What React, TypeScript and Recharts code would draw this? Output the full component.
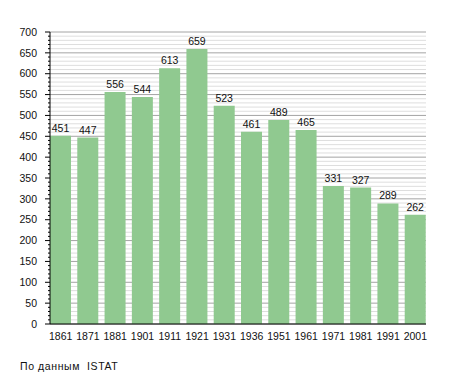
import React from 'react';
import { BarChart, Bar, XAxis, YAxis, CartesianGrid, LabelList } from 'recharts';

const years = ['1861', '1871', '1881', '1901', '1911', '1921', '1931', '1936', '1951', '1961', '1971', '1981', '1991', '2001'];
const population = [451, 447, 556, 544, 613, 659, 523, 461, 489, 465, 331, 327, 289, 262];
const yTicks = Array.from({ length: 71 }, (_, i) => i * 10);
const sourceNote = 'По данным  ISTAT';

const data = years.map((year, i) => ({ year, value: population[i] }));

const YTick = (props: any) => {
  const { x, y, payload } = props;
  const major = payload.value % 50 === 0;
  return (
    <g>
      <line x1={x - (major ? 5 : 2)} x2={x} y1={y} y2={y} stroke="#000" strokeWidth={1} />
      {major && (
        <text x={x - 13} y={y} dy="0.36em" textAnchor="end" fontSize={10.5} fill="#111">
          {payload.value}
        </text>
      )}
    </g>
  );
};

const GridLine = (props: any) => {
  const { x1, x2, y1, y2, index } = props;
  const major = index % 5 === 0;
  return <line x1={x1} x2={x2} y1={y1} y2={y2} stroke={major ? '#a4a4a4' : '#dedede'} strokeWidth={1} />;
};

export default function App() {
  return (
    <div
      style={{
        position: 'absolute',
        left: 0,
        top: 0,
        width: 455,
        height: 373,
        background: '#fff',
        fontFamily: '"Liberation Sans", Arial, sans-serif',
      }}
    >
      <BarChart
        width={455}
        height={350}
        data={data}
        margin={{ top: 32, right: 29, left: 0, bottom: 6 }}
      >
        <CartesianGrid vertical={false} horizontal={GridLine} />
        <XAxis
          dataKey="year"
          height={20}
          interval={0}
          padding={{ left: -3, right: -3 }}
          tickLine={false}
          axisLine={{ stroke: '#000' }}
          tick={{ fontSize: 10.5, fill: '#111' }}
          tickMargin={3}
        />
        <YAxis
          width={50}
          domain={[0, 700]}
          ticks={yTicks}
          interval={0}
          tickSize={0}
          tickMargin={0}
          tickLine={false}
          axisLine={{ stroke: '#000' }}
          tick={<YTick />}
        />
        <Bar dataKey="value" fill="#90c990" barSize={21} isAnimationActive={false}>
          <LabelList dataKey="value" position="top" offset={4} fontSize={10.5} fill="#111" />
        </Bar>
      </BarChart>
      <div
        style={{
          position: 'absolute',
          left: 20,
          top: 360,
          fontSize: 10.5,
          lineHeight: '12px',
          letterSpacing: 0.6,
          color: '#111',
          whiteSpace: 'pre',
        }}
      >
        {sourceNote}
      </div>
    </div>
  );
}
